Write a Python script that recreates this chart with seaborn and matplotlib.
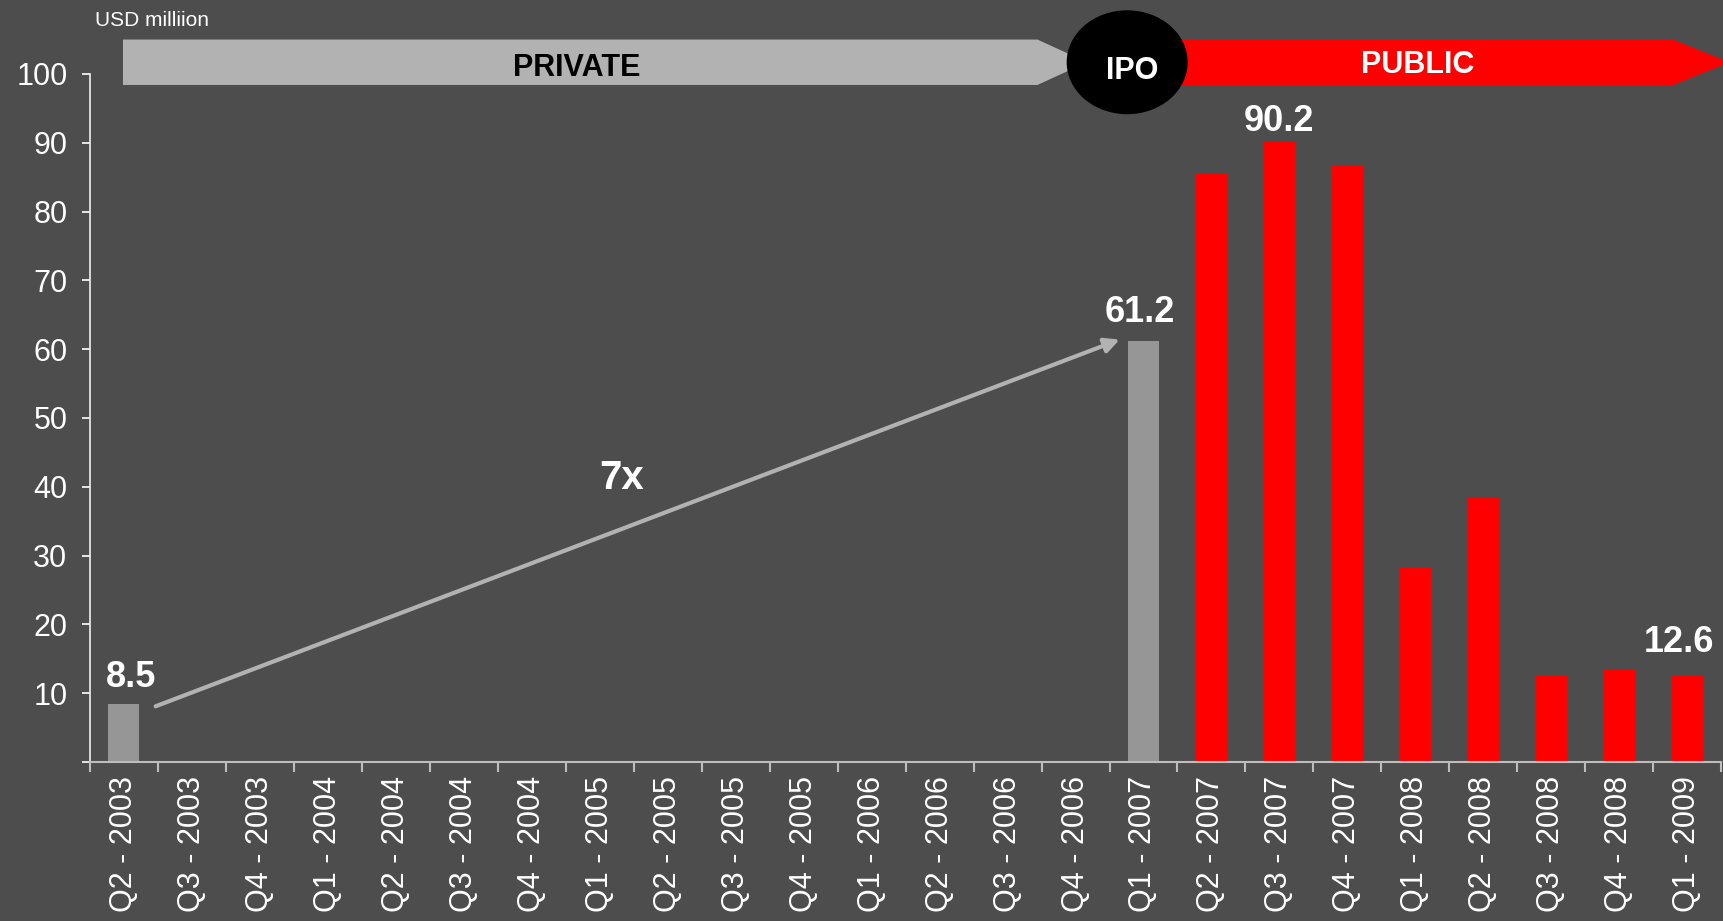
import numpy as np
import pandas as pd
import matplotlib
matplotlib.use("Agg")
import matplotlib.pyplot as plt
from matplotlib.patches import Polygon, Ellipse
import seaborn as sns

# data
quarters = ["Q2 - 2003", "Q3 - 2003", "Q4 - 2003",
            "Q1 - 2004", "Q2 - 2004", "Q3 - 2004", "Q4 - 2004",
            "Q1 - 2005", "Q2 - 2005", "Q3 - 2005", "Q4 - 2005",
            "Q1 - 2006", "Q2 - 2006", "Q3 - 2006", "Q4 - 2006",
            "Q1 - 2007", "Q2 - 2007", "Q3 - 2007", "Q4 - 2007",
            "Q1 - 2008", "Q2 - 2008", "Q3 - 2008", "Q4 - 2008",
            "Q1 - 2009"]
revenue = [8.5, 0, 0, 0, 0, 0, 0, 0, 0, 0, 0, 0, 0, 0, 0,
           61.2, 85.4, 90.2, 86.6, 28.3, 38.5, 12.7, 13.5, 12.6]
phase = ["private"] * 16 + ["public"] * 8
labelled = {"Q2 - 2003": "8.5", "Q1 - 2007": "61.2",
            "Q3 - 2007": "90.2", "Q1 - 2009": "12.6"}
y_ticks = [0, 10, 20, 30, 40, 50, 60, 70, 80, 90, 100]

BG = "#4d4d4d"
GREY_BAR = "#969696"
RED = "#ff0000"
BANNER_GREY = "#b2b2b2"

df = pd.DataFrame({"quarter": quarters, "revenue": revenue, "phase": phase})

sns.set_style("dark")
plt.rcParams["font.family"] = ["Liberation Sans", "DejaVu Sans"]

fig = plt.figure(figsize=(17.24, 9.21), dpi=100, facecolor=BG)
ax = fig.add_axes([0.052, 0.1726, 0.9465, 0.7471])
ax.set_facecolor(BG)

sns.barplot(data=df, x="quarter", y="revenue", hue="phase",
            palette={"private": GREY_BAR, "public": RED},
            dodge=False, width=0.46, legend=False, saturation=1,
            linewidth=0, edgecolor="none", ax=ax)

ax.set_xlim(-0.5, len(quarters) - 0.5)
ax.set_ylim(0, 100)
ax.set_xlabel("")
ax.set_ylabel("")
ax.grid(False)

for s in ["top", "right"]:
    ax.spines[s].set_visible(False)
ax.spines["left"].set_color("#f0f0f0")
ax.spines["left"].set_linewidth(1.2)
ax.spines["bottom"].set_color("#bdbdbd")
ax.spines["bottom"].set_linewidth(1.5)

ax.set_yticks(y_ticks)
ax.set_yticklabels([""] + [str(t) for t in y_ticks[1:]])
ax.tick_params(axis="y", colors="white", labelsize=22, length=6, width=1.2,
               direction="out", pad=10, left=True)
ax.set_xticks(range(len(quarters)))
ax.set_xticklabels(quarters, rotation=90)
ax.tick_params(axis="x", which="major", length=0, labelsize=22,
               labelcolor="white", pad=10, bottom=True)
ax.set_xticks(np.arange(-0.5, len(quarters)), minor=True)
ax.tick_params(axis="x", which="minor", length=7, width=1.5, color="#bdbdbd",
               direction="out", bottom=True)

# value labels
label_offsets = {"Q2 - 2003": (5, 6), "Q1 - 2007": (-3, 8),
                 "Q3 - 2007": (0, 2), "Q1 - 2009": (-6, 11)}
for i, q in enumerate(quarters):
    if q in labelled:
        ax.annotate(labelled[q], (i, revenue[i]), xytext=label_offsets[q],
                    textcoords="offset points", ha="center", va="bottom",
                    color="white", fontsize=26, fontweight="bold")

# growth arrow
ax.annotate("", xy=(14.65, 61.4), xytext=(0.47, 8.1),
            arrowprops=dict(arrowstyle="-|>", color=BANNER_GREY, lw=3,
                            mutation_scale=22, shrinkA=0, shrinkB=0))
ax.text(7.33, 41.3, "7x", color="white", fontsize=29, fontweight="bold",
        ha="center", va="center")

# phase banner
yb, yt = 98.4, 105.0
ym = (yb + yt) / 2
ax.add_patch(Polygon([(-0.01, yb), (13.44, yb), (14.17, ym), (13.44, yt), (-0.01, yt)],
                     closed=True, facecolor=BANNER_GREY, edgecolor="none",
                     clip_on=False, zorder=5))
ax.add_patch(Polygon([(15.0, yb), (22.79, yb), (23.62, ym), (22.79, yt), (15.0, yt)],
                     closed=True, facecolor=RED, edgecolor="none",
                     clip_on=False, zorder=5))
ax.add_patch(Ellipse((14.76, ym), 1.78, 15.1, facecolor="black", edgecolor="none",
                     clip_on=False, zorder=6))
ax.text(6.66, ym - 0.8, "PRIVATE", color="black", fontsize=22, fontweight="bold",
        ha="center", va="center", zorder=7)
ax.text(14.83, ym - 1.3, "IPO", color="white", fontsize=22, fontweight="bold",
        ha="center", va="center", zorder=7)
ax.text(19.03, ym - 0.4, "PUBLIC", color="white", fontsize=22, fontweight="bold",
        ha="center", va="center", zorder=7)

fig.text(0.055, 0.978, "USD milliion", color="white", fontsize=15,
         ha="left", va="center")

fig.savefig("out.png", dpi=100, facecolor=BG)
